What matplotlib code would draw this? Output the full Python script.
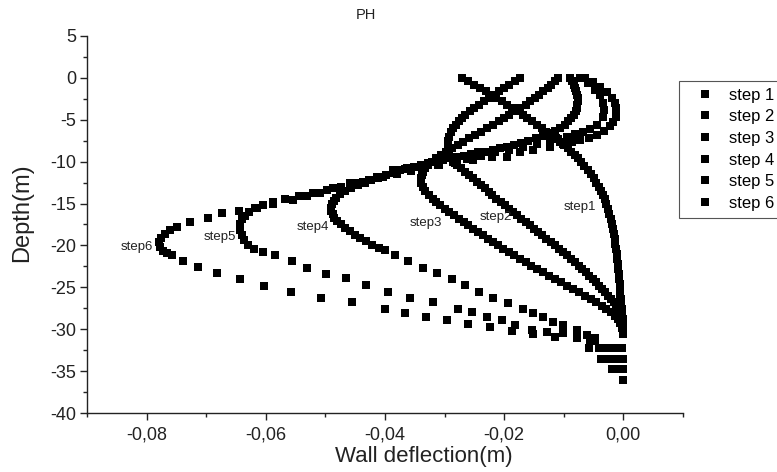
import matplotlib
matplotlib.use("Agg")
import matplotlib.pyplot as plt
from matplotlib.ticker import MultipleLocator, FuncFormatter

plt.rcParams['font.family'] = ['Liberation Sans', 'DejaVu Sans']

# ---------------- data (depth in m, wall deflection in m) ----------------
step1_depth = [0, -0.4, -0.8, -1.2, -1.6, -2.0, -2.4, -2.8, -3.2, -3.6, -4.0, -4.4, -4.8, -5.2, -5.6,
               -6.0, -6.4, -6.8, -7.2, -7.6, -8.0, -8.4, -8.8, -9.2, -9.6, -10.0,
               -10.5, -11.0, -11.5, -12.0, -12.5, -13.0, -13.5, -14.0, -14.5, -15.0,
               -15.6, -16.2, -16.8, -17.4, -18.0, -18.6, -19.2, -19.8, -20.4, -21.0, -21.6, -22.2, -22.8,
               -23.4, -24.0, -24.6, -25.2, -25.8, -26.4, -27.0, -27.6, -28.2, -28.8, -29.4, -30.0, -30.6,
               -32.3, -33.6, -34.8, -36.1]
step1_defl = [-0.0271, -0.0261, -0.0251, -0.0241, -0.0231, -0.0222, -0.0213, -0.0204, -0.0195, -0.0186,
              -0.0177, -0.0169, -0.0161, -0.0153, -0.0145, -0.0137, -0.0129, -0.0121, -0.0113, -0.0106,
              -0.0099, -0.0093, -0.0087, -0.0081, -0.0076, -0.0071,
              -0.0065, -0.0059, -0.0054, -0.0049, -0.0045, -0.0041, -0.0038, -0.0034, -0.0031, -0.0028,
              -0.0025, -0.0023, -0.0021, -0.0019, -0.0017, -0.0015, -0.0014, -0.0013, -0.0012, -0.0011,
              -0.0010, -0.0009, -0.0008, -0.0007, -0.0007, -0.0006, -0.0005, -0.0005, -0.0004, -0.0003,
              -0.0002, -0.0002, -0.0001, -0.0001, 0.0, 0.0,
              -0.0002, 0.0, 0.0, 0.0]

step2_depth = [0, -0.4, -0.8, -1.2, -1.6, -2.0, -2.4, -2.8, -3.2, -3.6, -4.0, -4.4, -4.8, -5.2, -5.6, -6.0,
               -6.5, -7.0, -7.5, -8.0, -8.5, -9.0, -9.5, -10.0,
               -10.4, -10.8, -11.2, -11.6, -12.0, -12.4, -12.8, -13.2, -13.6, -14.0, -14.4, -14.8, -15.2,
               -15.6, -16.0, -16.4, -16.8, -17.2, -17.6, -18.0, -18.4, -18.8, -19.2, -19.6, -20.0, -20.4,
               -20.8, -21.2, -21.6, -22.0, -22.4, -22.8, -23.2, -23.6, -24.0, -24.4, -24.8, -25.2, -25.6,
               -26.0, -26.4, -26.8, -27.2, -27.6, -28.0,
               -28.6, -29.2, -29.8, -30.4,
               -32.3, -33.6, -34.8, -36.1]
step2_defl = [-0.0173, -0.0182, -0.0191, -0.0200, -0.0209, -0.0218, -0.0226, -0.0234, -0.0242, -0.0250,
              -0.0258, -0.0265, -0.0271, -0.0276, -0.0281, -0.0285,
              -0.0289, -0.0292, -0.0294, -0.0295, -0.0295, -0.0293, -0.0290, -0.0285,
              -0.0279, -0.0273, -0.0266, -0.0259, -0.0252, -0.0245, -0.0238, -0.0232, -0.0226, -0.0220,
              -0.0213, -0.0206, -0.0199, -0.0192, -0.0185, -0.0178, -0.0171, -0.0164, -0.0157, -0.0150,
              -0.0143, -0.0136, -0.0129, -0.0122, -0.0115, -0.0108, -0.0101, -0.0094, -0.0088, -0.0081,
              -0.0075, -0.0069, -0.0063, -0.0057, -0.0051, -0.0046, -0.0040, -0.0035, -0.0030, -0.0025,
              -0.0020, -0.0016, -0.0012, -0.0009, -0.0006,
              -0.0004, -0.0002, -0.0001, 0.0,
              -0.0010, -0.0007, -0.0003, 0.0]

step3_depth = [0, -0.4, -0.8, -1.2, -1.6, -2.0, -2.4, -2.8, -3.2, -3.6, -4.0, -4.4, -4.8, -5.2, -5.6, -6.0,
               -6.4, -6.8, -7.2, -7.6, -8.0, -8.4, -8.8, -9.2, -9.6, -10.0, -10.4, -10.8, -11.2, -11.6, -12.0,
               -12.5, -13.0, -13.5,
               -14.0, -14.4, -14.8, -15.2, -15.6, -16.0, -16.4, -16.8, -17.2, -17.6, -18.0, -18.4, -18.8,
               -19.2, -19.6, -20.0, -20.4, -20.8, -21.2, -21.6, -22.0, -22.4, -22.8, -23.2, -23.6, -24.0,
               -24.4, -24.8, -25.2, -25.6, -26.0, -26.4, -26.8, -27.2, -27.6, -28.0, -28.4, -28.8, -29.2,
               -29.8, -30.4,
               -32.3, -33.6, -34.8, -36.1]
step3_defl = [-0.0110, -0.0115, -0.0121, -0.0127, -0.0134, -0.0141, -0.0148, -0.0156, -0.0164, -0.0173,
              -0.0182, -0.0191, -0.0200, -0.0209, -0.0219, -0.0229, -0.0239, -0.0249, -0.0259, -0.0269,
              -0.0278, -0.0288, -0.0297, -0.0306, -0.0314, -0.0321, -0.0327, -0.0332, -0.0336, -0.0338,
              -0.0339,
              -0.0339, -0.0336, -0.0332,
              -0.0326, -0.0320, -0.0314, -0.0307, -0.0300, -0.0292, -0.0284, -0.0276, -0.0268, -0.0260,
              -0.0252, -0.0244, -0.0236, -0.0227, -0.0219, -0.0210, -0.0201, -0.0192, -0.0183, -0.0174,
              -0.0164, -0.0154, -0.0144, -0.0134, -0.0124, -0.0114, -0.0104, -0.0094, -0.0084, -0.0074,
              -0.0064, -0.0054, -0.0045, -0.0036, -0.0028, -0.0020, -0.0014, -0.0009, -0.0005,
              -0.0002, -0.0001,
              -0.0020, -0.0014, -0.0006, 0.0]

step4_depth = [0, -0.4, -0.8, -1.2, -1.6, -2.0, -2.4, -2.8, -3.2, -3.6, -4.0, -4.4, -4.8, -5.2, -5.6, -6.0,
               -6.3, -6.6, -6.9, -7.2, -7.5,
               -7.8, -8.0, -8.2, -8.4, -8.6, -8.8, -8.9, -9.1, -9.3, -9.5, -9.6, -9.8, -10.0, -10.2, -10.4,
               -10.6, -10.8, -11.0,
               -11.3, -11.6, -11.9, -12.2, -12.5, -12.8, -13.1,
               -13.5, -13.9, -14.3, -14.7, -15.1, -15.5, -15.9, -16.3, -16.7, -17.1, -17.5, -17.9, -18.3,
               -18.7, -19.1, -19.5, -19.9, -20.3, -20.6,
               -21.1, -21.9, -22.7, -23.3, -24.0, -24.7, -25.5, -26.3, -26.9, -27.6, -28.1, -28.5, -29.1,
               -29.5, -30.1, -30.7, -31.0,
               -32.3, -33.6, -34.8, -36.1]
step4_defl = [-0.0089, -0.0086, -0.0083, -0.0081, -0.0079, -0.0077, -0.0076, -0.0076, -0.0077, -0.0078,
              -0.0080, -0.0083, -0.0087, -0.0092, -0.0098, -0.0106,
              -0.0114, -0.0124, -0.0135, -0.0147, -0.0159,
              -0.0171, -0.0183, -0.0195, -0.0207, -0.0219, -0.0231, -0.0243, -0.0255, -0.0267, -0.0279,
              -0.0291, -0.0303, -0.0315, -0.0327, -0.0339, -0.0351, -0.0363, -0.0375,
              -0.0387, -0.0399, -0.0411, -0.0423, -0.0434, -0.0446, -0.0457,
              -0.0467, -0.0475, -0.0482, -0.0486, -0.0489, -0.0490, -0.0490, -0.0488, -0.0485, -0.0480,
              -0.0474, -0.0467, -0.0459, -0.0451, -0.0442, -0.0432, -0.0421, -0.0410, -0.0400,
              -0.0383, -0.0362, -0.0337, -0.0313, -0.0288, -0.0266, -0.0242, -0.0218, -0.0193, -0.0168,
              -0.0151, -0.0135, -0.0118, -0.0101, -0.0077, -0.0060, -0.0047,
              -0.0030, -0.0022, -0.0010, 0.0]

step5_depth = [0, -0.6, -1.4, -2.1, -3.0, -3.8, -4.7, -5.6, -6.1, -6.4, -6.7, -7.0, -7.3, -7.5,
               -7.9, -8.2, -8.6, -8.9, -9.3, -9.7, -10.0, -10.4, -10.7, -11.1, -11.5, -11.8, -12.2, -12.6,
               -13.0, -13.4, -13.7, -14.1, -14.4, -14.8, -15.2,
               -15.5, -16.0, -16.5, -16.9, -17.5, -18.1, -18.7, -19.3, -19.9, -20.4, -20.8,
               -21.1, -21.8, -22.7, -23.4, -23.9, -24.7, -25.5, -26.3, -26.8, -27.6, -28.0, -28.5, -28.9,
               -29.5, -30.1, -30.3, -30.4, -30.9, -31.3,
               -32.3, -33.6, -34.8, -36.1]
step5_defl = [-0.0073, -0.0059, -0.0047, -0.0039, -0.0034, -0.0032, -0.0034, -0.0044, -0.0056, -0.0068,
              -0.0081, -0.0095, -0.0110, -0.0123,
              -0.0145, -0.0168, -0.0192, -0.0215, -0.0239, -0.0262, -0.0286, -0.0309, -0.0333, -0.0356,
              -0.0380, -0.0403, -0.0427, -0.0450, -0.0474, -0.0497, -0.0521, -0.0544, -0.0568, -0.0588,
              -0.0605,
              -0.0618, -0.0628, -0.0635, -0.0640, -0.0643, -0.0643, -0.0641, -0.0636, -0.0630, -0.0620,
              -0.0605,
              -0.0584, -0.0557, -0.0531, -0.0499, -0.0465, -0.0432, -0.0395, -0.0358, -0.0319, -0.0277,
              -0.0254, -0.0229, -0.0204, -0.0182, -0.0153, -0.0128, -0.0101, -0.0078, -0.0056,
              -0.0040, -0.0030, -0.0015, 0.0]

step6_depth = [0, -0.5, -1.1, -1.7, -2.4, -3.0, -3.6, -4.2, -4.7, -5.3, -5.8, -6.3, -6.8, -7.2, -7.4,
               -7.6, -7.9, -8.2,
               -8.6, -8.9, -9.4, -9.5, -9.8, -10.1, -10.4, -10.6, -10.9, -11.0, -11.8, -12.4, -12.5,
               -13.1, -13.7, -14.1, -14.6, -15.0, -15.5, -15.9, -16.1, -16.7, -17.2, -17.8,
               -18.1, -18.6, -19.1, -19.6, -20.2, -20.7, -20.9,
               -21.1, -21.8, -22.6, -23.3, -24.0, -24.8, -25.5, -26.3, -26.8, -27.6, -28.1, -28.5, -28.9,
               -29.4, -29.7, -30.2, -30.6, -30.9, -31.0, -31.4,
               -32.3, -33.6, -34.8, -36.1]
step6_defl = [-0.0064, -0.0051, -0.0039, -0.0027, -0.0019, -0.0014, -0.0012, -0.0012, -0.0012, -0.0017,
              -0.0022, -0.0032, -0.0044, -0.0058, -0.0073, -0.0086, -0.0101, -0.0123,
              -0.0152, -0.0173, -0.0195, -0.0220, -0.0252, -0.0282, -0.0311, -0.0339, -0.0366, -0.0386,
              -0.0413, -0.0437, -0.0459, -0.0487, -0.0509, -0.0531, -0.0555, -0.0588, -0.0615, -0.0646,
              -0.0673, -0.0698, -0.0727, -0.0749,
              -0.0761, -0.0769, -0.0776, -0.0779, -0.0778, -0.0773, -0.0766,
              -0.0757, -0.0739, -0.0714, -0.0682, -0.0643, -0.0603, -0.0558, -0.0507, -0.0455, -0.0400,
              -0.0366, -0.0331, -0.0296, -0.0261, -0.0224, -0.0187, -0.0152, -0.0115, -0.0078, -0.0047,
              -0.0058, -0.0037, -0.0019, -0.0001]

series_labels = ['step 1', 'step 2', 'step 3', 'step 4', 'step 5', 'step 6']
curve_labels = ['step1', 'step2', 'step3', 'step4', 'step5', 'step6']
# annotation anchor points (deflection, depth)
curve_label_defl = [-0.0073, -0.0214, -0.0331, -0.0522, -0.0678, -0.0817]
curve_label_depth = [-15.4, -16.6, -17.3, -17.8, -19.0, -20.2]

depths = [step1_depth, step2_depth, step3_depth, step4_depth, step5_depth, step6_depth]
defls = [step1_defl, step2_defl, step3_defl, step4_defl, step5_defl, step6_defl]

# ---------------- figure ----------------
fig = plt.figure(figsize=(7.77, 4.72), dpi=100)
ax = fig.add_axes([87.3 / 777, 59 / 472, (682.7 - 87.3) / 777, (413 - 36) / 472])

for d, v, lab in zip(depths, defls, series_labels):
    ax.plot(v, d, linestyle='none', marker='s', markersize=5.4, markeredgewidth=0,
            color='black', label=lab, clip_on=False)

for t, x, y in zip(curve_labels, curve_label_defl, curve_label_depth):
    ax.text(x, y, t, fontsize=9.5, ha='center', va='center', color='#222222')

ax.set_xlim(-0.09, 0.01)
ax.set_ylim(-40, 5)

ax.xaxis.set_major_locator(MultipleLocator(0.02))
ax.xaxis.set_minor_locator(MultipleLocator(0.01))
ax.yaxis.set_major_locator(MultipleLocator(5))
ax.yaxis.set_minor_locator(MultipleLocator(2.5))


def xfmt(v, pos):
    if abs(v) < 1e-9:
        v = 0.0
    return f"{v:.2f}".replace('.', ',')


def yfmt(v, pos):
    return f"{int(round(v))}"


ax.xaxis.set_major_formatter(FuncFormatter(xfmt))
ax.yaxis.set_major_formatter(FuncFormatter(yfmt))

for s in ['top', 'right']:
    ax.spines[s].set_visible(False)
for s in ['left', 'bottom']:
    ax.spines[s].set_linewidth(1.0)
    ax.spines[s].set_color('#222222')

ax.tick_params(axis='both', which='major', direction='out', length=5, width=1.0,
               labelsize=13, colors='#222222')
ax.tick_params(axis='both', which='minor', direction='out', length=3, width=1.0, colors='#222222')
ax.tick_params(axis='x', which='major', pad=5)
ax.tick_params(axis='y', which='major', pad=3)

ax.set_xlabel('Wall deflection(m)', fontsize=16, color='#222222')
ax.xaxis.set_label_coords((424 - 87.3) / 595.4, -0.087)
ax.set_ylabel('Depth(m)', fontsize=17, color='#222222')
ax.yaxis.set_label_coords(-0.091, 0.532)

fig.text(366 / 777, 1 - 15 / 472, 'PH', fontsize=10.5, ha='center', va='center', color='#222222')

leg = ax.legend(loc='upper left', bbox_to_anchor=(679 / 777, 1 - 81 / 472),
                bbox_transform=fig.transFigure, frameon=True, fancybox=False,
                edgecolor='#555555', framealpha=1, fontsize=12, handlelength=2.3,
                handletextpad=0.3, labelspacing=0.4, borderaxespad=0, borderpad=0.4,
                numpoints=1)
leg.get_frame().set_linewidth(0.8)

fig.savefig('out.png', dpi=100)
